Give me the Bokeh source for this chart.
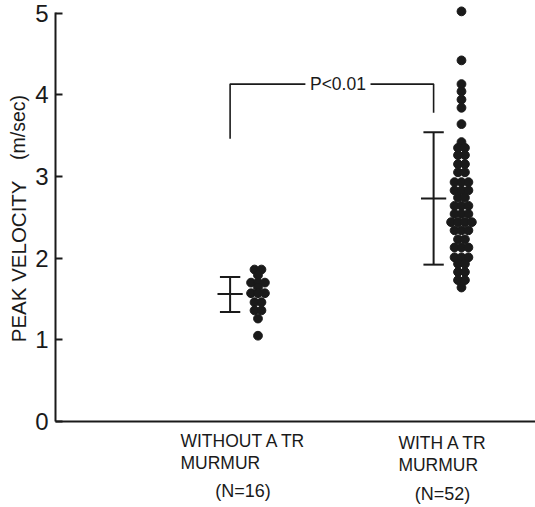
from bokeh.plotting import figure
from bokeh.models import Label, FixedTicker, Range1d
from bokeh.embed import file_html
from bokeh.resources import INLINE
from collections import OrderedDict
import math

# ---------------- data ----------------
groups = [1, 2]
label_line1 = ["WITHOUT A TR", "WITH A TR"]
label_line2 = ["MURMUR", "MURMUR"]
label_n = ["(N=16)", "(N=52)"]

without_tr = [1.86, 1.86, 1.79, 1.70, 1.70, 1.70, 1.64, 1.57, 1.57, 1.57,
              1.46, 1.46, 1.36, 1.36, 1.26, 1.05]
with_tr = [5.02, 4.42, 4.13, 4.04, 3.94, 3.84, 3.64, 3.42,
           3.35, 3.35, 3.26, 3.26, 3.15, 3.15, 3.05, 3.05,
           2.93, 2.93, 2.93, 2.83, 2.83, 2.83, 2.74, 2.74,
           2.64, 2.64, 2.64, 2.54, 2.54, 2.54,
           2.44, 2.44, 2.44, 2.44, 2.34, 2.34, 2.34, 2.23, 2.23,
           2.13, 2.13, 2.13, 2.01, 2.01, 2.01, 1.93, 1.93,
           1.83, 1.83, 1.73, 1.73, 1.64]
means = [1.56, 2.73]
sd_low = [1.34, 1.92]
sd_high = [1.77, 3.54]
bracket_top = 4.13
bracket_ends = [3.46, 3.78]
p_text = "P<0.01"
yticks = [0, 1, 2, 3, 4, 5]

# ---------------- style ----------------
FONT = "Liberation Sans"
INK = "#1a1a1a"
DOT_STEP = 0.034     # horizontal step between dots in a row (data units)
EB_OFFSET = -0.137   # error bar position relative to group
CAP = 0.05
MEAN_W = 0.062
AXIS_X = 0.005

W, H = 535, 507
p = figure(width=W, height=H, output_backend="svg", toolbar_location=None,
           x_range=Range1d(AXIS_X - 55 / 203.5, AXIS_X + (W - 55) / 203.5),
           y_range=Range1d(-(H - 421) / 81.7, 421 / 81.7),
           min_border=0)
p.outline_line_color = None
p.xgrid.visible = False
p.ygrid.visible = False
p.background_fill_color = "white"

# axes drawn inside the frame at fixed data locations
p.yaxis.fixed_location = AXIS_X
p.yaxis.bounds = (0, 5.01)
p.yaxis.ticker = FixedTicker(ticks=yticks)
p.yaxis.major_tick_in = 7
p.yaxis.major_tick_out = 0
p.yaxis.minor_tick_in = 0
p.yaxis.minor_tick_out = 0
p.yaxis.axis_line_width = 2
p.yaxis.axis_line_color = INK
p.yaxis.major_tick_line_width = 2
p.yaxis.major_tick_line_color = INK
p.yaxis.major_label_text_font = FONT
p.yaxis.major_label_text_font_size = "24px"
p.yaxis.major_label_text_color = INK
p.yaxis.major_label_standoff = 7

p.xaxis.fixed_location = 0
p.xaxis.bounds = (AXIS_X, AXIS_X + (W - 55) / 203.5)
p.xaxis.ticker = FixedTicker(ticks=[])
p.xaxis.axis_line_width = 2
p.xaxis.axis_line_color = INK
p.xaxis.major_tick_in = 0
p.xaxis.major_tick_out = 0
p.xaxis.minor_tick_in = 0
p.xaxis.minor_tick_out = 0

# dots: stack equal values into centered rows
def swarm(values, center):
    rows = OrderedDict()
    for v in values:
        rows.setdefault(v, 0)
        rows[v] += 1
    xs, ys = [], []
    for v, n in rows.items():
        for i in range(n):
            xs.append(center + (i - (n - 1) / 2) * DOT_STEP)
            ys.append(v)
    return xs, ys

for g, vals in zip(groups, [without_tr, with_tr]):
    xs, ys = swarm(vals, g)
    p.scatter(xs, ys, size=8.8, fill_color=INK, line_color=INK)

# error bars
for g, m, lo, hi in zip(groups, means, sd_low, sd_high):
    xe = g + EB_OFFSET
    p.segment(x0=[xe], y0=[lo], x1=[xe], y1=[hi], line_width=2, line_color=INK)
    p.segment(x0=[xe - CAP, xe - CAP, xe - MEAN_W],
              y0=[lo, hi, m],
              x1=[xe + CAP, xe + CAP, xe + MEAN_W],
              y1=[lo, hi, m], line_width=2, line_color=INK)

# significance bracket
xa = groups[0] + EB_OFFSET
xb = groups[1] + EB_OFFSET
xm = (xa + xb) / 2 + 0.03
gap = 0.16
p.line([xa, xa, xm - gap], [bracket_ends[0], bracket_top, bracket_top],
       line_width=1.6, line_color=INK)
p.line([xm + gap, xb, xb], [bracket_top, bracket_top, bracket_ends[1]],
       line_width=1.6, line_color=INK)
p.add_layout(Label(x=xm, y=bracket_top, text=p_text, text_align="center",
                   text_baseline="middle", text_font=FONT,
                   text_font_size="17.5px", text_color=INK))

# y axis title
p.add_layout(Label(x=-0.177, y=1.96, text="PEAK VELOCITY", angle=math.pi / 2,
                   text_align="center", text_baseline="middle",
                   text_font=FONT, text_font_size="20.5px", text_color=INK))
p.add_layout(Label(x=-0.177, y=3.60, text="(m/sec)", angle=math.pi / 2,
                   text_align="center", text_baseline="middle",
                   text_font=FONT, text_font_size="19.5px", text_color=INK))

# category labels
line1_x = [0.619, 1.690]
n_x = [0.926, 1.907]
base1 = [-0.236, -0.26]
base2 = [-0.509, -0.53]
base3 = [-0.855, -0.885]
for i in range(2):
    p.add_layout(Label(x=line1_x[i], y=base1[i], text=label_line1[i],
                       text_align="left", text_baseline="alphabetic",
                       text_font=FONT, text_font_size="17.5px", text_color=INK))
    p.add_layout(Label(x=line1_x[i], y=base2[i], text=label_line2[i],
                       text_align="left", text_baseline="alphabetic",
                       text_font=FONT, text_font_size="17.5px", text_color=INK))
    p.add_layout(Label(x=n_x[i], y=base3[i], text=label_n[i],
                       text_align="center", text_baseline="alphabetic",
                       text_font=FONT, text_font_size="18px", text_color=INK))

open("out.html", "w").write(file_html(p, INLINE))
